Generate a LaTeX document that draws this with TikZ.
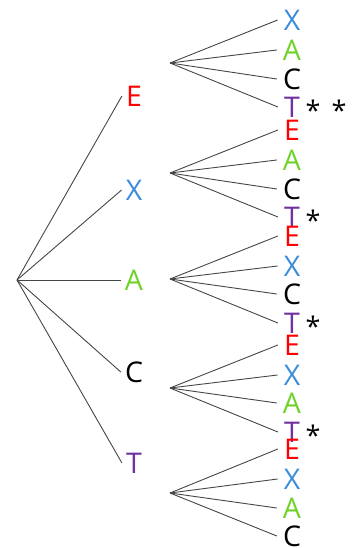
\documentclass[tikz,border=0pt]{standalone}
\usepackage{fontspec}
\setmainfont{Open Sans}
\definecolor{cE}{RGB}{255,0,0}
\definecolor{cX}{RGB}{60,140,220}
\definecolor{cA}{RGB}{110,210,40}
\definecolor{cC}{RGB}{0,0,0}
\definecolor{cT}{RGB}{112,48,160}
\definecolor{edge}{RGB}{70,70,70}
\begin{document}
\begin{tikzpicture}[x=1pt,y=-1pt,
  lett/.style={font=\fontsize{28.5}{28.5}\selectfont, inner ysep=0pt, inner xsep=6pt, anchor=center},
  mark2/.style={font=\fontsize{27}{27}\selectfont, inner sep=0pt},
  edgeline/.style={draw=edge, line width=0.9pt}]
\useasboundingbox (0,0) rectangle (353,548);
\coordinate (root) at (17,280);
% level 1
\node[lett,text=cE,inner xsep=4pt] (L1) at (134,96) {E};
\node[lett,text=cX,inner xsep=4pt] (L2) at (134,190) {X};
\node[lett,text=cA,inner xsep=4pt] (L3) at (134,280) {A};
\node[lett,text=cC,inner xsep=4pt] (L4) at (134,372) {C};
\node[lett,text=cT,inner xsep=4pt] (L5) at (134,463) {T};
\foreach \i in {1,...,5} \draw[edgeline] (root) -- (L\i.west);
% fan points
\coordinate (F1) at (170,63);
\coordinate (F2) at (170,173);
\coordinate (F3) at (170,279);
\coordinate (F4) at (170,388);
\coordinate (F5) at (170,493);
% leaves
\foreach \g/\ys/\ls in {
  1/{20,50,79,107}/{X,A,C,T},
  2/{130,160,189,217}/{E,A,C,T},
  3/{236,266,294,323}/{E,X,C,T},
  4/{345,375,403,432}/{E,X,A,T},
  5/{449,479,508,536}/{E,X,A,C}}{
  \foreach \y [count=\k] in \ys {
    \foreach \l [count=\m] in \ls {
      \ifnum\k=\m
        \node[lett,text=c\l] (N\g\k) at (292,\y) {\l};
        \draw[edgeline] (F\g) -- (N\g\k.west);
      \fi
    }
  }
}
\node[mark2] (s1) at (313,110) {*};
\node[mark2] (s2) at (339,110) {*};
\node[mark2] (s3) at (313,220) {*};
\node[mark2] (s4) at (313,326) {*};
\node[mark2] (s5) at (313,435) {*};
\end{tikzpicture}
\end{document}
